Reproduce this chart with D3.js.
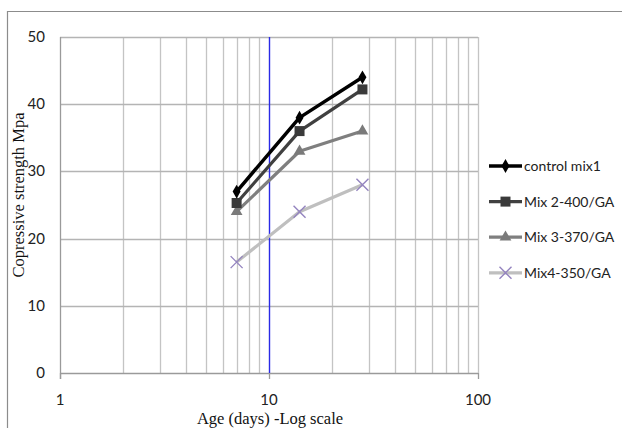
<!DOCTYPE html>
<html>
<head>
<meta charset="utf-8">
<script src="https://cdn.jsdelivr.net/npm/d3@7"></script>
<style>
  body { margin: 0; background: #fff; }
  svg { display: block; }
</style>
</head>
<body>
<div id="chart"></div>
<script>
// datos
var ages = [7, 14, 28];
var seriesNames = ["control mix1", "Mix 2-400/GA", "Mix 3-370/GA", "Mix4-350/GA"];
var control = [27, 38, 44];
var mix2 = [25.3, 36, 42.2];
var mix3 = [24, 33, 36];
var mix4 = [16.5, 24, 28];
var yTicks = [0, 10, 20, 30, 40, 50];
var xTicks = [1, 10, 100];

var width = 622,
    height = 428,
    margin = { top: 37, right: 144, bottom: 55, left: 60 };

var svg = d3.select("#chart")
    .append("svg")
    .attr("width", width)
    .attr("height", height);

// marco exterior
svg.append("path")
    .attr("d", "M7.5," + height + "V11.5H" + width)
    .style("fill", "none")
    .style("stroke", "#8c8c8c")
    .style("stroke-width", "1.2px");

var x = d3.scaleLog()
    .domain([1, 100])
    .range([margin.left, width - margin.right]);

var y = d3.scaleLinear()
    .domain([0, 50])
    .range([height - margin.bottom, margin.top]);

var grid = svg.append("g");

// lineas verticales menores
var minor = [];
for (var dec = 1; dec < 100; dec *= 10) {
    for (var k = 2; k <= 9; k++) minor.push(dec * k);
}
minor.push(100);

grid.selectAll("line.vminor")
    .data(minor)
    .enter()
    .append("line")
    .attr("x1", function (d) { return Math.round(x(d)) + 0.5; })
    .attr("x2", function (d) { return Math.round(x(d)) + 0.5; })
    .attr("y1", y(50))
    .attr("y2", y(0))
    .style("stroke", "#c4c4c4")
    .style("stroke-width", "1.3px");

grid.selectAll("line.h")
    .data(yTicks)
    .enter()
    .append("line")
    .attr("x1", x(1))
    .attr("x2", x(100))
    .attr("y1", function (d) { return Math.round(y(d)) + 0.5; })
    .attr("y2", function (d) { return Math.round(y(d)) + 0.5; })
    .style("stroke", function (d) { return d === 0 ? "#9a9a9a" : "#b4b4b4"; })
    .style("stroke-width", "1.3px");

// linea azul en 10
grid.append("line")
    .attr("x1", Math.round(x(10)) + 0.5)
    .attr("x2", Math.round(x(10)) + 0.5)
    .attr("y1", y(50))
    .attr("y2", y(0))
    .style("stroke", "#2a2ae6")
    .style("stroke-width", "1.4px");

// eje y
grid.append("line")
    .attr("x1", x(1) + 0.5)
    .attr("x2", x(1) + 0.5)
    .attr("y1", y(50))
    .attr("y2", y(0) + 6)
    .style("stroke", "#9a9a9a")
    .style("stroke-width", "1.3px");

// ticks del eje x
grid.selectAll("line.xt")
    .data(xTicks)
    .enter()
    .append("line")
    .attr("x1", function (d) { return Math.round(x(d)) + 0.5; })
    .attr("x2", function (d) { return Math.round(x(d)) + 0.5; })
    .attr("y1", y(0))
    .attr("y2", y(0) + 6)
    .style("stroke", "#9a9a9a")
    .style("stroke-width", "1.3px");

var labelFont = "Lato, 'Open Sans', sans-serif";

svg.selectAll("text.yl")
    .data(yTicks)
    .enter()
    .append("text")
    .attr("x", 45)
    .attr("y", function (d) { return y(d) + 5; })
    .attr("text-anchor", "end")
    .style("font-family", labelFont)
    .style("font-size", "15px")
    .style("fill", "#222")
    .text(function (d) { return d; });

svg.selectAll("text.xl")
    .data(xTicks)
    .enter()
    .append("text")
    .attr("x", function (d) { return x(d); })
    .attr("y", y(0) + 32)
    .attr("text-anchor", "middle")
    .style("font-family", labelFont)
    .style("font-size", "15px")
    .style("fill", "#222")
    .text(function (d) { return d; });

// titulos
svg.append("text")
    .attr("x", 270)
    .attr("y", 424)
    .attr("text-anchor", "middle")
    .style("font-family", "'Liberation Serif', 'DejaVu Serif', serif")
    .style("font-size", "16.5px")
    .style("fill", "#111")
    .text("Age (days) -Log scale");

svg.append("text")
    .attr("transform", "translate(24," + 195 + ") rotate(-90)")
    .attr("text-anchor", "middle")
    .style("font-family", "'Liberation Serif', 'DejaVu Serif', serif")
    .style("font-size", "16.5px")
    .style("fill", "#111")
    .text("Copressive strength Mpa");

// series
var series = [
    { name: seriesNames[0], values: control, color: "#000000", width: 3.5, marker: "diamond", mfill: "#000", mstroke: "none", msize: 55 },
    { name: seriesNames[1], values: mix2, color: "#404040", width: 3.2, marker: "square", mfill: "#3a3a3a", mstroke: "none", msize: 100 },
    { name: seriesNames[2], values: mix3, color: "#7f7f7f", width: 3.2, marker: "triangle", mfill: "#7a7a7a", mstroke: "none", msize: 60 },
    { name: seriesNames[3], values: mix4, color: "#bfbfbf", width: 3.2, marker: "x", mfill: "none", mstroke: "#9484bf", msize: 12 }
];

var line = d3.line()
    .x(function (d) { return x(d[0]); })
    .y(function (d) { return y(d[1]); });

function drawMarker(g, s, cx, cy) {
    if (s.marker === "x") {
        var h = s.msize / 2;
        g.append("path")
            .attr("d", "M" + (cx - h) + "," + (cy - h) + "L" + (cx + h) + "," + (cy + h) +
                "M" + (cx - h) + "," + (cy + h) + "L" + (cx + h) + "," + (cy - h))
            .style("stroke", s.mstroke)
            .style("stroke-width", "1.4px")
            .style("fill", "none");
        return;
    }
    var sym = s.marker === "diamond" ? d3.symbolDiamond :
        s.marker === "square" ? d3.symbolSquare : d3.symbolTriangle;
    g.append("path")
        .attr("d", d3.symbol().type(sym).size(s.msize)())
        .attr("transform", "translate(" + cx + "," + cy + ")")
        .style("fill", s.mfill)
        .style("stroke", s.mstroke);
}

// orden de dibujo: la serie clara primero
series.slice().reverse().forEach(function (s) {
    var pts = ages.map(function (a, i) { return [a, s.values[i]]; });
    var g = svg.append("g");
    g.append("path")
        .datum(pts)
        .attr("d", line)
        .style("fill", "none")
        .style("stroke", s.color)
        .style("stroke-width", s.width + "px")
        .style("stroke-linejoin", "round");
    pts.forEach(function (p) {
        drawMarker(g, s, x(p[0]), y(p[1]));
    });
});

// leyenda
var legend = svg.append("g");
series.forEach(function (s, i) {
    var ly = 166 + i * 35.6;
    legend.append("line")
        .attr("x1", 489)
        .attr("x2", 522)
        .attr("y1", ly)
        .attr("y2", ly)
        .style("stroke", s.color)
        .style("stroke-width", s.width + "px");
    drawMarker(legend, s, 505.5, ly);
    legend.append("text")
        .attr("x", 524)
        .attr("y", ly + 5)
        .style("font-family", labelFont)
        .style("font-size", "14px")
        .style("fill", "#222")
        .text(s.name);
});
</script>
</body>
</html>
